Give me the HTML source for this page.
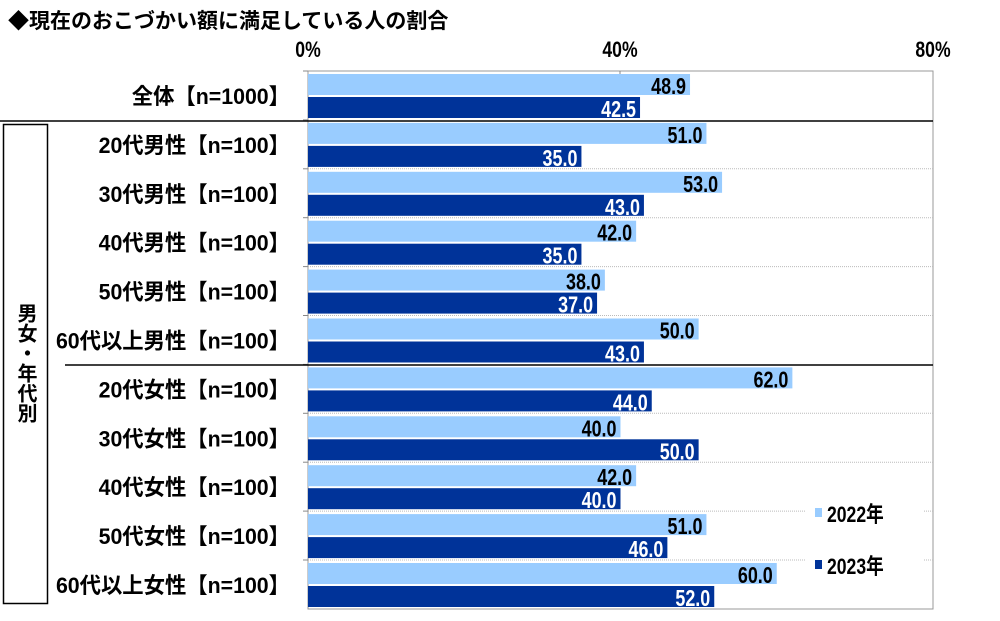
<!DOCTYPE html><html><head><meta charset="utf-8"><style>body{margin:0;background:#fff}svg{display:block}</style></head><body>
<svg width="1000" height="621" xmlns="http://www.w3.org/2000/svg" font-family="Liberation Sans, Noto Sans CJK JP, sans-serif" font-weight="bold">
<text x="8" y="28" font-size="21">◆現在のおこづかい額に満足している人の割合</text>
<g font-size="22" text-anchor="middle"><text transform="translate(308,57) scale(0.8,1)">0%</text><text transform="translate(620,57) scale(0.8,1)">40%</text><text transform="translate(933,57) scale(0.8,1)">80%</text></g>
<rect x="308" y="71" width="625" height="538" fill="none" stroke="#999" stroke-width="1"/>
<line x1="620" y1="71" x2="620" y2="77" stroke="#888"/>
<g id="g"></g>
<line x1="0" y1="121" x2="933" y2="121" stroke="#000" stroke-width="1.5"/>
<line x1="65" y1="365" x2="933" y2="365" stroke="#000" stroke-width="1.5"/>
<rect x="3.5" y="124.5" width="44" height="479" fill="none" stroke="#000" stroke-width="1.5"/>
<text x="25" y="363" font-size="20" text-anchor="middle" style="writing-mode:vertical-rl">男女・年代別</text>
<rect x="805" y="502" width="118" height="72" fill="#fff"/>
<rect x="815" y="508" width="7" height="9" fill="#99ccff"/><text transform="translate(827,522) scale(0.8,1)" font-size="22">2022年</text>
<rect x="815" y="560" width="7" height="9" fill="#003399"/><text transform="translate(827,574) scale(0.8,1)" font-size="22">2023年</text>
</svg>
<script>
const d=[["全体【n=1000】",48.9,42.5],["20代男性【n=100】",51,35],["30代男性【n=100】",53,43],["40代男性【n=100】",42,35],["50代男性【n=100】",38,37],["60代以上男性【n=100】",50,43],["20代女性【n=100】",62,44],["30代女性【n=100】",40,50],["40代女性【n=100】",42,40],["50代女性【n=100】",51,46],["60代以上女性【n=100】",60,52]];
let s="";const k=625/80;
d.forEach((r,i)=>{const t=71+48.9*i;
if(i>0&&i!=1&&i!=6)s+=`<line x1="308" y1="${t}" x2="933" y2="${t}" stroke="#bbb" stroke-dasharray="1,1"/>`;
s+=`<line x1="303" y1="${t}" x2="308" y2="${t}" stroke="#888"/>`;
s+=`<text transform="translate(290,${t+33}) scale(0.97,1)" font-size="22" text-anchor="end" letter-spacing="0">${r[0]}</text>`;
const a=r[1]*k,b=r[2]*k;
s+=`<rect x="308" y="${t+3}" width="${a}" height="21" fill="#99ccff"/>`;
s+=`<rect x="308" y="${t+26}" width="${b}" height="21" fill="#003399"/>`;
s+=`<text transform="translate(${308+a-4},${t+23}) scale(0.78,1)" font-size="23" text-anchor="end">${r[1].toFixed(1)}</text>`;
s+=`<text transform="translate(${308+b-4},${t+46}) scale(0.78,1)" font-size="23" text-anchor="end" fill="#fff">${r[2].toFixed(1)}</text>`;});
document.getElementById("g").innerHTML=s;
</script></body></html>
